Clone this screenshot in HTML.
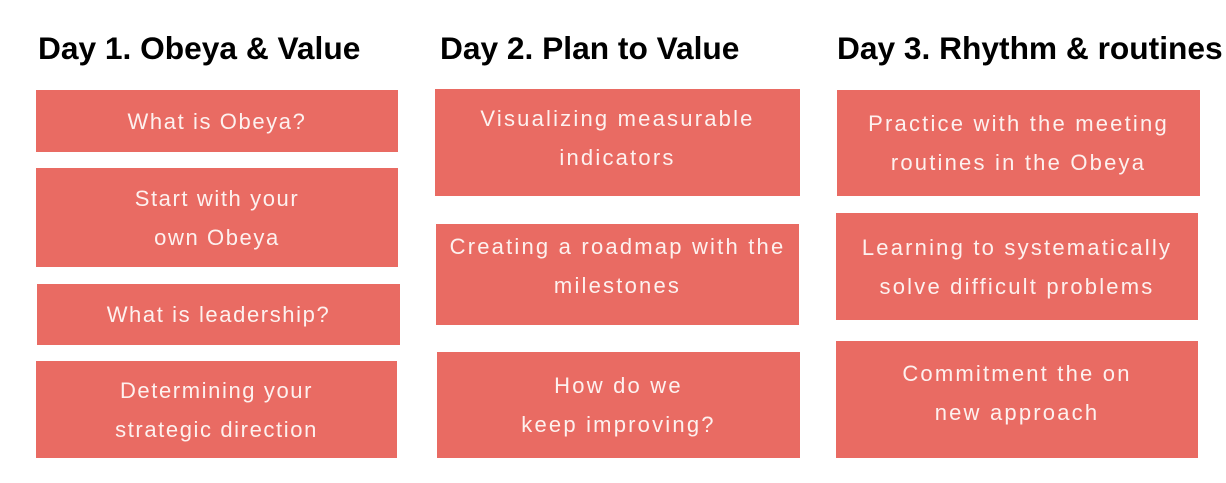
<!DOCTYPE html>
<html><head><style>
body{margin:0;width:1226px;height:483px;background:#fff;position:relative;overflow:hidden;font-family:"Liberation Sans",sans-serif}
h2{position:absolute;margin:0;font-size:31.7px;font-weight:bold;color:#000;top:30px;white-space:nowrap;line-height:36px}
.b{position:absolute;background:#e96b63;color:#fdf1ef;font-size:22px;line-height:39px;display:flex;align-items:center;justify-content:center;text-align:center;white-space:nowrap;letter-spacing:1.6px}
.c2{letter-spacing:2.2px}
</style></head><body>
<h2 style="left:38px">Day 1. Obeya &amp; Value</h2>
<h2 style="left:440px">Day 2. Plan to Value</h2>
<h2 style="left:837px">Day 3. Rhythm &amp; routines</h2>

<div class="b" style="left:36px;top:90px;width:362px;height:62px">What is Obeya?</div>
<div class="b" style="left:36px;top:168px;width:362px;height:99px">Start with your<br>own Obeya</div>
<div class="b" style="left:37px;top:284px;width:363px;height:61px">What is leadership?</div>
<div class="b" style="left:36px;top:361px;width:361px;height:97px">Determining your<br>strategic direction</div>

<div class="b c2" style="left:435px;top:89px;width:365px;height:107px;align-items:flex-start"><div style="margin-top:10px">Visualizing measurable<br>indicators</div></div>
<div class="b c2" style="left:436px;top:224px;width:363px;height:101px;align-items:flex-start"><div style="margin-top:3px">Creating a roadmap with the<br>milestones</div></div>
<div class="b c2" style="left:437px;top:352px;width:363px;height:106px">How do we<br>keep improving?</div>

<div class="b c2" style="left:837px;top:90px;width:363px;height:106px">Practice with the meeting<br>routines in the Obeya</div>
<div class="b c2" style="left:836px;top:213px;width:362px;height:107px">Learning to systematically<br>solve difficult problems</div>
<div class="b c2" style="left:836px;top:341px;width:362px;height:117px;align-items:flex-start"><div style="margin-top:13px">Commitment the on<br>new approach</div></div>
</body></html>
